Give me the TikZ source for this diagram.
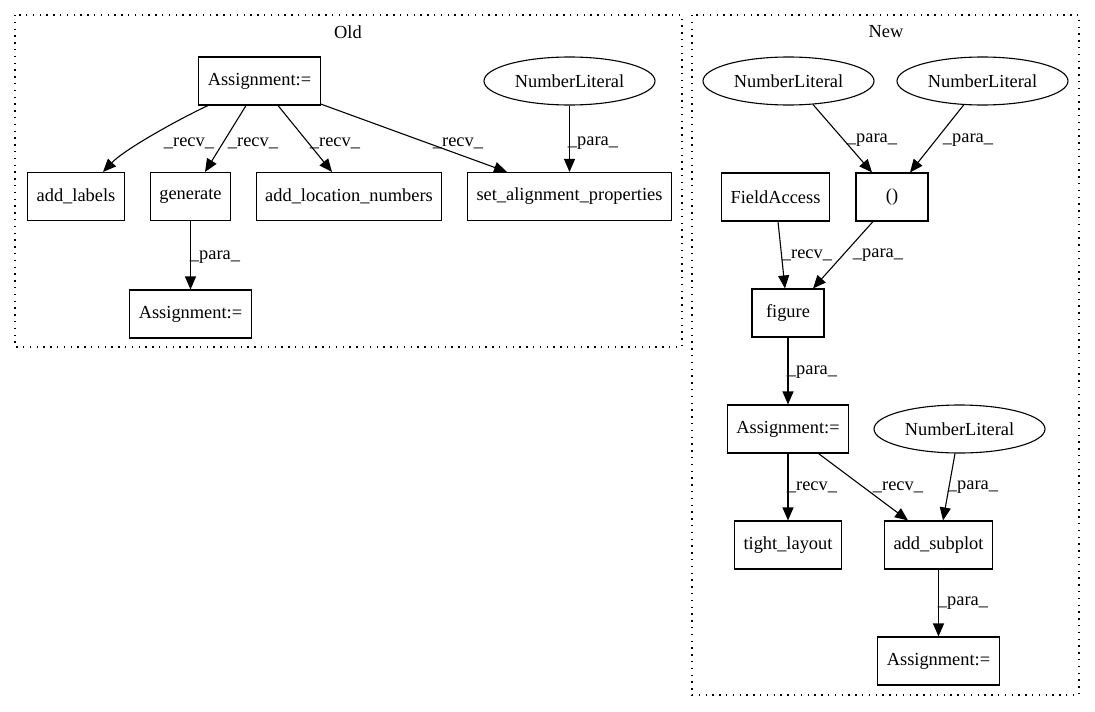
\documentclass[tikz,border=0pt]{standalone}
\usepackage{fontspec}
\setmainfont{Liberation Serif}
\usetikzlibrary{arrows.meta}
\usetikzlibrary{shapes.geometric}

\tikzset{
  box/.style={draw,rectangle,line width=1.1pt,minimum width=72,minimum height=48,inner xsep=9,inner ysep=0},
  lit/.style={draw,ellipse,line width=1.1pt,minimum width=171,minimum height=48,inner sep=0},
  edge/.style={line width=1.1pt,-{Triangle[length=13pt,width=11pt]}},
  lbl/.style={inner sep=0},
  cluster/.style={line width=1.2pt,dash pattern=on 1.4pt off 5.4pt},
}

\begin{document}
\begin{tikzpicture}[x=1pt,y=-1pt,font=\fontsize{18.4}{22}\selectfont]
                \useasboundingbox (0,0) rectangle (1095,712);

                \draw[cluster] (15,15) rectangle (682,347);
                \draw[cluster] (692,15) rectangle (1079,695);
                \node (oldtitle) at (348,32) {Old};
                \node (newtitle) at (886,32) {New};

                \node[box] (oassign) at (259.5,81) {Assignment:=};
                \node[lit] (onum) at (569.5,81) {NumberLiteral};
                \node[box] (addlabels) at (76,196.5) {add\_labels};
                \node[box] (generate) at (190.5,196.5) {generate};
                \node[box] (addloc) at (349,196.5) {add\_location\_numbers};
                \node[box] (setalign) at (569.5,196.5) {set\_alignment\_properties};
                \node[box] (oassignb) at (190.5,314) {Assignment:=};

                \draw[edge] ([xshift=-51.5]oassign.south) .. controls +(-28,13) and +(22,-23) .. ([xshift=27]addlabels.north) node[lbl] at (189,143) {\_recv\_};
                \draw[edge] ([xshift=-13.5]oassign.south) -- ([xshift=14.5]generate.north) node[lbl] at (253,143) {\_recv\_};
                \draw[edge] ([xshift=18.5]oassign.south) -- ([xshift=-17]addloc.north) node[lbl] at (335,143) {\_recv\_};
                \draw[edge] ([yshift=1.5]oassign.south east) -- ([xshift=-62.5]setalign.north) node[lbl] at (458,143) {\_recv\_};
                \draw[edge] (onum.south) -- (setalign.north) node[lbl] at (593,143) {\_para\_};
                \draw[edge] (generate.south) -- (oassignb.north) node[lbl] at (215,257) {\_para\_};

                \node[lit] (nnuma) at (788.5,81) {NumberLiteral};
                \node[lit] (nnumb) at (982.5,81) {NumberLiteral};
                \node[box] (field) at (775.5,197) {FieldAccess};
                \node[box] (paren) at (892,197) {()};
                \node[box] (figure) at (788,313) {figure};
                \node[box] (nassign) at (788,429) {Assignment:=};
                \node[lit] (nnumc) at (959.5,429) {NumberLiteral};
                \node[box] (tight) at (788,545) {tight\_layout};
                \node[box] (addsub) at (938.5,545) {add\_subplot};
                \node[box] (nassignb) at (938.5,661) {Assignment:=};

                \draw[edge] ([xshift=24.5,yshift=1]nnuma.south) -- ([xshift=-20]paren.north) node[lbl] at (872,140) {\_para\_};
                \draw[edge] ([xshift=-18.5,yshift=1]nnumb.south) -- ([xshift=18]paren.north) node[lbl] at (968,140) {\_para\_};
                \draw[edge] ([xshift=2.5]field.south) -- ([xshift=-3]figure.north) node[lbl] at (807,255) {\_recv\_};
                \draw[edge] ([xshift=-19]paren.south) -- ([xshift=25]figure.north) node[lbl] at (878,255) {\_para\_};
                \draw[edge] (figure.south) -- (nassign.north) node[lbl] at (812,372) {\_para\_};
                \draw[edge] (nassign.south) -- (tight.north) node[lbl] at (812,487) {\_recv\_};
                \draw[edge] ([xshift=30.5]nassign.south) -- ([xshift=-30.5]addsub.north) node[lbl] at (898,487) {\_recv\_};
                \draw[edge] ([xshift=-4.5]nnumc.south) -- ([xshift=4.5]addsub.north) node[lbl] at (973,487) {\_para\_};
                \draw[edge] (addsub.south) -- (nassignb.north) node[lbl] at (963,603) {\_para\_};
            \end{tikzpicture}
\end{document}
